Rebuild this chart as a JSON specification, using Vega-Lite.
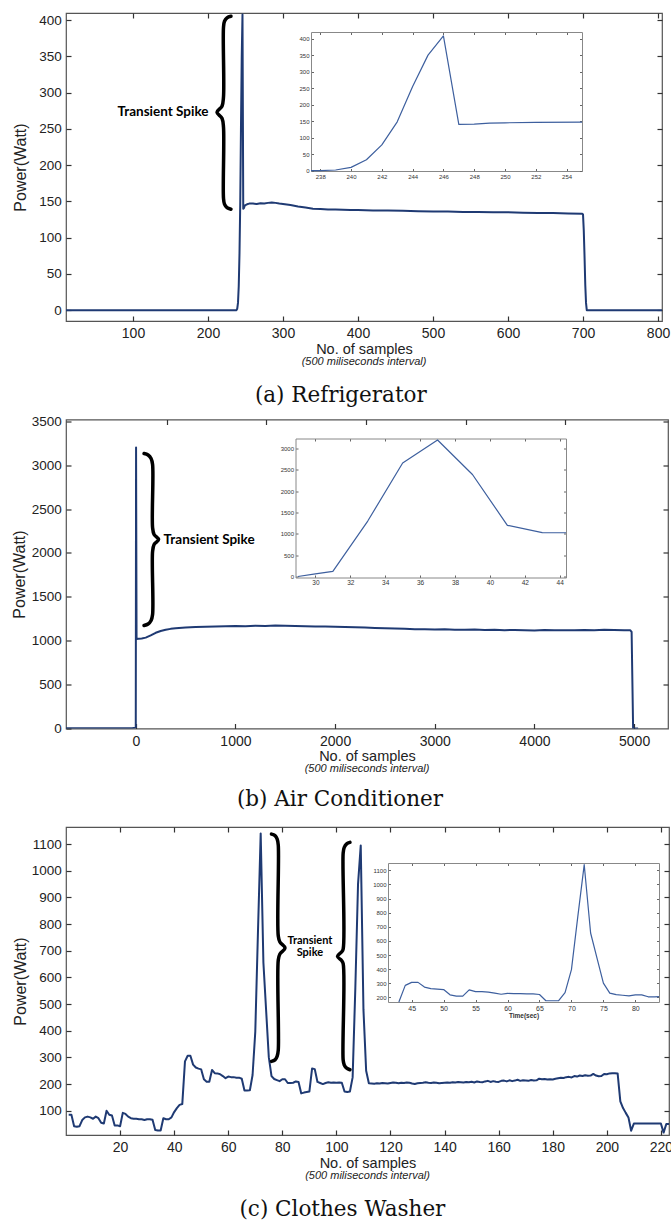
{
  "$schema": "https://vega.github.io/schema/vega-lite/v6.json",
  "padding": {"left": 10, "top": 11, "right": 0, "bottom": 0},
  "background": "white",
  "config": {
    "view": {"stroke": "#555", "strokeWidth": 1.2},
    "axis": {"labelFont": "Liberation Sans", "titleFont": "Liberation Sans", "labelColor": "#222", "titleColor": "#222", "tickColor": "#333", "tickWidth": 1.2, "tickOpacity": 1, "ticks": true, "domain": false, "grid": false, "titleFontWeight": "normal", "labelFontWeight": "normal", "labelOverlap": false, "minExtent": 0, "format": "d"}
  },
  "datasets": {
    "fridge": [
      {"x":1,"y":0},{"x":100,"y":0},{"x":200,"y":0},{"x":237,"y":0},{"x":238,"y":0},{"x":239,"y":2},{"x":240,"y":10},{"x":241,"y":33},{"x":242,"y":78},{"x":243,"y":148},{"x":244,"y":255},{"x":245,"y":350},{"x":246,"y":408},{"x":247,"y":140},{"x":248,"y":141},{"x":249,"y":144},{"x":250,"y":145},{"x":252,"y":146},{"x":255,"y":147},{"x":260,"y":147},{"x":265,"y":146.5},{"x":270,"y":147.5},{"x":275,"y":147},{"x":280,"y":148},{"x":285,"y":148.5},{"x":290,"y":148},{"x":295,"y":147},{"x":300,"y":146.5},{"x":310,"y":145},{"x":320,"y":143},{"x":330,"y":141.5},{"x":340,"y":140},{"x":350,"y":139.5},{"x":360,"y":139},{"x":370,"y":139},{"x":380,"y":138.5},{"x":390,"y":138},{"x":400,"y":138},{"x":420,"y":137.5},{"x":440,"y":137.5},{"x":460,"y":137},{"x":480,"y":136.5},{"x":500,"y":136},{"x":520,"y":136},{"x":540,"y":135.5},{"x":560,"y":135.5},{"x":580,"y":135},{"x":600,"y":135},{"x":620,"y":134.5},{"x":640,"y":134},{"x":660,"y":134},{"x":680,"y":133.5},{"x":699,"y":133},{"x":700,"y":132},{"x":701,"y":110},{"x":702,"y":75},{"x":703,"y":35},{"x":704,"y":10},{"x":705,"y":0},{"x":806,"y":0}
    ],
    "braceA": [
      {"o":1,"x":230.67,"y":405.5},{"o":2,"x":225.33,"y":403.4},{"o":3,"x":222.0,"y":398.6},{"o":4,"x":220.67,"y":390.3},{"o":5,"x":220.67,"y":293.8},{"o":6,"x":218.67,"y":281.4},{"o":7,"x":212.0,"y":273.1},{"o":8,"x":218.67,"y":264.8},{"o":9,"x":220.67,"y":252.4},{"o":10,"x":220.67,"y":154.5},{"o":11,"x":222.0,"y":146.2},{"o":12,"x":225.33,"y":141.4},{"o":13,"x":230.67,"y":139.3}
    ],
    "labelA": [{"x":140,"y":273,"label":"Transient Spike"}],
    "ac": [
      {"x":-700,"y":3},{"x":-500,"y":3},{"x":-300,"y":3},{"x":-100,"y":4},{"x":-30,"y":6},{"x":-5,"y":10},{"x":0,"y":15},{"x":3,"y":3200},{"x":8,"y":1020},{"x":30,"y":1022},{"x":60,"y":1025},{"x":100,"y":1035},{"x":150,"y":1060},{"x":200,"y":1090},{"x":250,"y":1110},{"x":300,"y":1125},{"x":350,"y":1135},{"x":400,"y":1142},{"x":500,"y":1150},{"x":600,"y":1155},{"x":700,"y":1158},{"x":800,"y":1162},{"x":900,"y":1165},{"x":1000,"y":1168},{"x":1100,"y":1166},{"x":1200,"y":1170},{"x":1300,"y":1168},{"x":1400,"y":1172},{"x":1500,"y":1170},{"x":1600,"y":1168},{"x":1700,"y":1165},{"x":1800,"y":1163},{"x":1900,"y":1162},{"x":2000,"y":1158},{"x":2100,"y":1155},{"x":2200,"y":1152},{"x":2300,"y":1150},{"x":2400,"y":1145},{"x":2500,"y":1142},{"x":2600,"y":1140},{"x":2700,"y":1135},{"x":2800,"y":1132},{"x":2900,"y":1130},{"x":3000,"y":1128},{"x":3100,"y":1130},{"x":3200,"y":1126},{"x":3300,"y":1125},{"x":3400,"y":1127},{"x":3500,"y":1122},{"x":3600,"y":1125},{"x":3700,"y":1120},{"x":3800,"y":1123},{"x":3900,"y":1118},{"x":4000,"y":1115},{"x":4100,"y":1122},{"x":4200,"y":1120},{"x":4300,"y":1118},{"x":4400,"y":1120},{"x":4500,"y":1122},{"x":4600,"y":1120},{"x":4700,"y":1125},{"x":4800,"y":1122},{"x":4900,"y":1120},{"x":4960,"y":1120},{"x":4975,"y":1100},{"x":4990,"y":0},{"x":5040,"y":0}
    ],
    "acInset": [
      {"x":29,"y":0},{"x":30,"y":60},{"x":31,"y":120},{"x":33,"y":1300},{"x":35,"y":2660},{"x":37,"y":3200},{"x":39,"y":2390},{"x":41,"y":1200},{"x":43,"y":1030},{"x":45,"y":1025}
    ],
    "braceB": [
      {"o":1,"x":83.3,"y":3132},{"o":2,"x":123.5,"y":3115},{"o":3,"x":153.6,"y":3075},{"o":4,"x":168.7,"y":3007},{"o":5,"x":168.7,"y":2289},{"o":6,"x":183.7,"y":2210},{"o":7,"x":228.9,"y":2153},{"o":8,"x":183.7,"y":2096},{"o":9,"x":168.7,"y":2016},{"o":10,"x":168.7,"y":1298},{"o":11,"x":153.6,"y":1230},{"o":12,"x":123.5,"y":1190},{"o":13,"x":83.3,"y":1173}
    ],
    "labelB": [{"x":736,"y":2153,"label":"Transient Spike"}],
    "washer": [
      {"x":1,"y":85},{"x":2,"y":85},{"x":3,"y":42},{"x":4,"y":40},{"x":5,"y":42},{"x":6,"y":65},{"x":7,"y":75},{"x":8,"y":78},{"x":9,"y":75},{"x":10,"y":70},{"x":11,"y":78},{"x":12,"y":72},{"x":13,"y":55},{"x":14,"y":52},{"x":15,"y":100},{"x":16,"y":85},{"x":17,"y":82},{"x":18,"y":45},{"x":19,"y":45},{"x":20,"y":42},{"x":21,"y":92},{"x":22,"y":88},{"x":23,"y":78},{"x":24,"y":72},{"x":25,"y":70},{"x":26,"y":70},{"x":27,"y":68},{"x":28,"y":68},{"x":29,"y":65},{"x":30,"y":68},{"x":31,"y":68},{"x":32,"y":66},{"x":33,"y":28},{"x":34,"y":26},{"x":35,"y":26},{"x":36,"y":72},{"x":37,"y":68},{"x":38,"y":68},{"x":39,"y":75},{"x":40,"y":95},{"x":41,"y":110},{"x":42,"y":122},{"x":43,"y":125},{"x":44,"y":285},{"x":45,"y":306},{"x":46,"y":306},{"x":47,"y":273},{"x":48,"y":262},{"x":49,"y":258},{"x":50,"y":255},{"x":51,"y":218},{"x":52,"y":209},{"x":53,"y":209},{"x":54,"y":253},{"x":55,"y":241},{"x":56,"y":240},{"x":57,"y":237},{"x":58,"y":230},{"x":59,"y":222},{"x":60,"y":228},{"x":61,"y":226},{"x":62,"y":226},{"x":63,"y":224},{"x":64,"y":224},{"x":65,"y":220},{"x":66,"y":176},{"x":67,"y":176},{"x":68,"y":177},{"x":69,"y":234},{"x":70,"y":396},{"x":71,"y":774},{"x":72,"y":1140},{"x":73,"y":656},{"x":74,"y":478},{"x":75,"y":301},{"x":76,"y":230},{"x":77,"y":219},{"x":78,"y":215},{"x":79,"y":211},{"x":80,"y":218},{"x":81,"y":218},{"x":82,"y":204},{"x":83,"y":204},{"x":84,"y":205},{"x":85,"y":210},{"x":86,"y":208},{"x":87,"y":165},{"x":88,"y":168},{"x":89,"y":170},{"x":90,"y":172},{"x":91,"y":258},{"x":92,"y":256},{"x":93,"y":208},{"x":94,"y":204},{"x":95,"y":200},{"x":96,"y":204},{"x":97,"y":207},{"x":98,"y":205},{"x":99,"y":206},{"x":100,"y":205},{"x":101,"y":206},{"x":102,"y":205},{"x":103,"y":172},{"x":104,"y":170},{"x":105,"y":172},{"x":106,"y":225},{"x":107,"y":560},{"x":108,"y":950},{"x":109,"y":1095},{"x":110,"y":480},{"x":111,"y":250},{"x":112,"y":203},{"x":113,"y":202},{"x":114,"y":201},{"x":115,"y":203},{"x":116,"y":202},{"x":117,"y":204},{"x":118,"y":203},{"x":119,"y":202},{"x":120,"y":204},{"x":121,"y":206},{"x":122,"y":205},{"x":123,"y":203},{"x":124,"y":205},{"x":125,"y":204},{"x":126,"y":206},{"x":127,"y":205},{"x":128,"y":202},{"x":129,"y":200},{"x":130,"y":203},{"x":131,"y":204},{"x":132,"y":205},{"x":133,"y":207},{"x":134,"y":205},{"x":135,"y":204},{"x":136,"y":206},{"x":137,"y":205},{"x":138,"y":203},{"x":139,"y":204},{"x":140,"y":205},{"x":141,"y":206},{"x":142,"y":205},{"x":143,"y":207},{"x":144,"y":206},{"x":145,"y":208},{"x":146,"y":207},{"x":147,"y":206},{"x":148,"y":208},{"x":149,"y":207},{"x":150,"y":209},{"x":151,"y":206},{"x":152,"y":210},{"x":153,"y":208},{"x":154,"y":207},{"x":155,"y":210},{"x":156,"y":212},{"x":157,"y":208},{"x":158,"y":211},{"x":159,"y":209},{"x":160,"y":208},{"x":161,"y":212},{"x":162,"y":213},{"x":163,"y":210},{"x":164,"y":214},{"x":165,"y":211},{"x":166,"y":213},{"x":167,"y":216},{"x":168,"y":212},{"x":169,"y":214},{"x":170,"y":213},{"x":171,"y":212},{"x":172,"y":215},{"x":173,"y":213},{"x":174,"y":214},{"x":175,"y":220},{"x":176,"y":218},{"x":177,"y":219},{"x":178,"y":217},{"x":179,"y":218},{"x":180,"y":217},{"x":181,"y":220},{"x":182,"y":222},{"x":183,"y":224},{"x":184,"y":223},{"x":185,"y":226},{"x":186,"y":227},{"x":187,"y":225},{"x":188,"y":230},{"x":189,"y":228},{"x":190,"y":232},{"x":191,"y":230},{"x":192,"y":233},{"x":193,"y":231},{"x":194,"y":232},{"x":195,"y":238},{"x":196,"y":232},{"x":197,"y":229},{"x":198,"y":230},{"x":199,"y":238},{"x":200,"y":237},{"x":201,"y":240},{"x":202,"y":241},{"x":203,"y":241},{"x":204,"y":240},{"x":205,"y":135},{"x":206,"y":110},{"x":207,"y":92},{"x":208,"y":75},{"x":209,"y":25},{"x":210,"y":52},{"x":211,"y":52},{"x":212,"y":52},{"x":213,"y":52},{"x":214,"y":52},{"x":215,"y":52},{"x":216,"y":52},{"x":217,"y":52},{"x":218,"y":52},{"x":219,"y":52},{"x":220,"y":52},{"x":221,"y":18},{"x":222,"y":50},{"x":223,"y":50}
    ],
    "braceC": [
      {"g":"a","o":1,"x":76.0,"y":1137.5},{"g":"a","o":2,"x":77.3,"y":1131.9},{"g":"a","o":3,"x":78.1,"y":1118.8},{"g":"a","o":4,"x":78.5,"y":1096.3},{"g":"a","o":5,"x":78.5,"y":755.1},{"g":"a","o":6,"x":79.1,"y":732.6},{"g":"a","o":7,"x":81.0,"y":710.1},{"g":"a","o":8,"x":79.1,"y":687.6},{"g":"a","o":9,"x":78.5,"y":665.1},{"g":"a","o":10,"x":78.5,"y":327.6},{"g":"a","o":11,"x":78.1,"y":305.1},{"g":"a","o":12,"x":77.3,"y":290.9},{"g":"a","o":13,"x":76.0,"y":285.2},
      {"g":"b","o":1,"x":105.0,"y":1106.4},{"g":"b","o":2,"x":103.8,"y":1100.8},{"g":"b","o":3,"x":102.9,"y":1087.6},{"g":"b","o":4,"x":102.5,"y":1066.3},{"g":"b","o":5,"x":102.5,"y":706.3},{"g":"b","o":6,"x":101.9,"y":695.0},{"g":"b","o":7,"x":100.4,"y":678.9},{"g":"b","o":8,"x":101.9,"y":663.2},{"g":"b","o":9,"x":102.5,"y":651.9},{"g":"b","o":10,"x":102.5,"y":290.1},{"g":"b","o":11,"x":102.9,"y":271.4},{"g":"b","o":12,"x":103.8,"y":259.4},{"g":"b","o":13,"x":105.0,"y":253.7}
    ],
    "labelC": [{"x":90.2,"y":736,"label":"Transient"},{"x":90.2,"y":691,"label":"Spike"}]
  },
  "concat": [
    {
      "concat": [
        {
          "width": 596, "height": 308,
          "title": {"text": "(500 miliseconds interval)", "orient": "bottom", "anchor": "middle", "frame": "group", "font": "Liberation Sans", "fontSize": 11, "fontStyle": "italic", "fontWeight": "normal", "color": "#222", "offset": 0},
          "resolve": {"scale": {"x": "independent", "y": "independent"}, "axis": {"x": "independent", "y": "independent"}},
          "layer": [
            {
              "layer": [
                {"data": {"name": "fridge"}, "mark": {"type": "line", "color": "#1f3a73", "strokeWidth": 2, "strokeJoin": "round", "clip": true},
                 "encoding": {
                   "x": {"field": "x", "type": "quantitative", "scale": {"domain": [10.7, 805.3], "nice": false, "zero": false}, "axis": {"orient": "bottom", "offset": -5, "values": [100,200,300,400,500,600,700,800], "ticks": true, "tickSize": 5, "labelPadding": 5.7, "labelFontSize": 14, "labelOverlap": false, "title": "No. of samples", "titleFontSize": 14.5, "titlePadding": 1.5}},
                   "y": {"field": "y", "type": "quantitative", "scale": {"domain": [-15, 410], "nice": false, "zero": false}, "axis": {"orient": "left", "offset": -5, "values": [0,100,200,300,400], "ticks": true, "tickSize": 5, "labelPadding": 4.7, "labelFontSize": 13.5, "labelOverlap": false, "title": "Power(Watt)", "titleFontSize": 16, "titlePadding": 4, "minExtent": 39}}
                 }},
                {"data": {"name": "braceA"}, "mark": {"type": "line", "color": "black", "strokeWidth": 3.5, "interpolate": "catmull-rom", "strokeCap": "round", "strokeJoin": "round"},
                 "encoding": {"x": {"field": "x", "type": "quantitative"}, "y": {"field": "y", "type": "quantitative"}, "order": {"field": "o"}}},
                {"data": {"name": "labelA"}, "mark": {"type": "text", "font": "Lato", "fontWeight": "bold", "fontSize": 13.5, "align": "center", "baseline": "middle", "color": "black"},
                 "encoding": {"x": {"field": "x", "type": "quantitative"}, "y": {"field": "y", "type": "quantitative"}, "text": {"field": "label"}}}
              ]
            },
            {"data": {"name": "fridge"}, "mark": {"type": "line", "opacity": 0, "clip": true},
             "encoding": {
               "x": {"field": "x", "type": "quantitative", "scale": {"domain": [10.7, 805.3], "nice": false, "zero": false}, "axis": null},
               "y": {"field": "y", "type": "quantitative", "scale": {"domain": [-15, 410], "nice": false, "zero": false}, "axis": {"orient": "left", "offset": -5, "values": [50,150,250,350], "ticks": true, "tickSize": 5, "labelPadding": 4.7, "labelFontSize": 13.5, "labelOverlap": false, "title": null}}
             }},
            {"data": {"name": "fridge"}, "mark": {"type": "line", "opacity": 0, "clip": true},
             "encoding": {
               "x": {"field": "x", "type": "quantitative", "scale": {"domain": [10.7, 805.3], "nice": false, "zero": false}, "axis": {"orient": "top", "offset": -5, "values": [100,200,300,400,500,600,700,800], "ticks": true, "tickSize": 5, "labels": false, "title": null}},
               "y": {"field": "y", "type": "quantitative", "scale": {"domain": [-15, 410], "nice": false, "zero": false}, "axis": {"orient": "right", "offset": -5, "values": [0,50,100,150,200,250,300,350,400], "ticks": true, "tickSize": 5, "labels": false, "title": null}}
             }},
            {"data": {"name": "fridge"}, "transform": [{"filter": "datum.x >= 237 && datum.x <= 256"}], "mark": {"type": "line", "color": "#3d5f9e", "strokeWidth": 1.2, "strokeJoin": "round"},
             "encoding": {
               "x": {"field": "x", "type": "quantitative", "scale": {"domain": [237.4, 255], "range": [245, 516], "nice": false, "zero": false, "clamp": true}, "axis": {"orient": "bottom", "offset": -150, "values": [238,240,242,244,246,248,250,252,254], "ticks": true, "tickSize": -2.5, "tickWidth": 1, "labelFontSize": 6, "labelPadding": 4.8, "labelOverlap": false, "labelColor": "#333", "domain": true, "domainColor": "#888", "tickColor": "#666", "title": null}},
               "y": {"field": "y", "type": "quantitative", "scale": {"domain": [-1, 420], "range": [158, 19], "nice": false, "zero": false, "clamp": true}, "axis": {"orient": "left", "offset": -245, "values": [0,50,100,150,200,250,300,350,400], "ticks": true, "tickSize": -2.5, "tickWidth": 1, "labelFontSize": 6, "labelPadding": 4.5, "labelOverlap": false, "labelColor": "#333", "domain": true, "domainColor": "#888", "tickColor": "#666", "title": null}}
             }},
            {"data": {"name": "fridge"}, "transform": [{"filter": "datum.x >= 237 && datum.x <= 256"}], "mark": {"type": "line", "opacity": 0},
             "encoding": {
               "x": {"field": "x", "type": "quantitative", "scale": {"domain": [237.4, 255], "range": [245, 516], "nice": false, "zero": false, "clamp": true}, "axis": {"orient": "top", "offset": -19, "values": [238,240,242,244,246,248,250,252,254], "ticks": true, "tickSize": -2.5, "tickWidth": 1, "labels": false, "domain": true, "domainColor": "#888", "tickColor": "#666", "title": null}},
               "y": {"field": "y", "type": "quantitative", "scale": {"domain": [-1, 420], "range": [158, 19], "nice": false, "zero": false, "clamp": true}, "axis": {"orient": "right", "offset": -80, "values": [0,50,100,150,200,250,300,350,400], "ticks": true, "tickSize": -2.5, "tickWidth": 1, "labels": false, "domain": true, "domainColor": "#888", "tickColor": "#666", "title": null}}
             }}
          ]
        }
      ],
      "columns": 1,
      "title": {"text": "(a) Refrigerator", "orient": "bottom", "anchor": "middle", "frame": "bounds", "font": "DejaVu Serif", "fontSize": 21.5, "fontWeight": "normal", "color": "#111", "offset": 18}
    },
    {
      "concat": [
        {
          "width": 602, "height": 309,
          "title": {"text": "(500 miliseconds interval)", "orient": "bottom", "anchor": "middle", "frame": "group", "font": "Liberation Sans", "fontSize": 11, "fontStyle": "italic", "fontWeight": "normal", "color": "#222", "offset": 0},
          "resolve": {"scale": {"x": "independent", "y": "independent"}, "axis": {"x": "independent", "y": "independent"}},
          "layer": [
            {
              "layer": [
                {"data": {"name": "ac"}, "mark": {"type": "line", "color": "#1f3a73", "strokeWidth": 2, "strokeJoin": "round", "clip": true},
                 "encoding": {
                   "x": {"field": "x", "type": "quantitative", "scale": {"domain": [-700, 5340], "nice": false, "zero": false}, "axis": {"orient": "bottom", "offset": -5, "values": [0,1000,2000,3000,4000,5000], "ticks": true, "tickSize": 5, "labelPadding": 5.7, "labelFontSize": 14, "labelOverlap": false, "title": "No. of samples", "titleFontSize": 14.5, "titlePadding": 1.5}},
                   "y": {"field": "y", "type": "quantitative", "scale": {"domain": [0, 3520], "nice": false, "zero": false}, "axis": {"orient": "left", "offset": -5, "values": [0,500,1000,1500,2000,2500,3000,3500], "ticks": true, "tickSize": 5, "labelPadding": 4.7, "labelFontSize": 13.5, "labelOverlap": false, "title": "Power(Watt)", "titleFontSize": 16, "titlePadding": 4}}
                 }},
                {"data": {"name": "braceB"}, "mark": {"type": "line", "color": "black", "strokeWidth": 3.5, "interpolate": "catmull-rom", "strokeCap": "round", "strokeJoin": "round"},
                 "encoding": {"x": {"field": "x", "type": "quantitative"}, "y": {"field": "y", "type": "quantitative"}, "order": {"field": "o"}}},
                {"data": {"name": "labelB"}, "mark": {"type": "text", "font": "Lato", "fontWeight": "bold", "fontSize": 13.5, "align": "center", "baseline": "middle", "color": "black"},
                 "encoding": {"x": {"field": "x", "type": "quantitative"}, "y": {"field": "y", "type": "quantitative"}, "text": {"field": "label"}}}
              ]
            },
            {"data": {"name": "ac"}, "mark": {"type": "line", "opacity": 0, "clip": true},
             "encoding": {
               "x": {"field": "x", "type": "quantitative", "scale": {"domain": [-1010, 5030], "nice": false, "zero": false}, "axis": {"orient": "top", "offset": -5, "values": [0,1000,2000,3000,4000], "ticks": true, "tickSize": 5, "labels": false, "title": null}},
               "y": {"field": "y", "type": "quantitative", "scale": {"domain": [0, 3520], "nice": false, "zero": false}, "axis": {"orient": "right", "offset": -5, "values": [500,1000,1500,2000,2500,3000,3500], "ticks": true, "tickSize": 5, "labels": false, "title": null}}
             }},
            {"data": {"name": "acInset"}, "mark": {"type": "line", "color": "#3d5f9e", "strokeWidth": 1.2, "strokeJoin": "round"},
             "encoding": {
               "x": {"field": "x", "type": "quantitative", "scale": {"domain": [28.86, 44.36], "range": [229.5, 500], "nice": false, "zero": false, "clamp": true}, "axis": {"orient": "bottom", "offset": -151, "values": [30,32,34,36,38,40,42,44], "ticks": true, "tickSize": -2.5, "tickWidth": 1, "labelFontSize": 6.5, "labelPadding": 4.8, "labelOverlap": false, "labelColor": "#333", "domain": true, "domainColor": "#888", "tickColor": "#666", "title": null}},
               "y": {"field": "y", "type": "quantitative", "scale": {"domain": [-23, 3234], "range": [158, 19], "nice": false, "zero": false, "clamp": true}, "axis": {"orient": "left", "offset": -229.5, "values": [0,500,1000,1500,2000,2500,3000], "ticks": true, "tickSize": -2.5, "tickWidth": 1, "labelFontSize": 6, "labelPadding": 4.5, "labelOverlap": false, "labelColor": "#333", "domain": true, "domainColor": "#888", "tickColor": "#666", "title": null}}
             }},
            {"data": {"name": "acInset"}, "mark": {"type": "line", "opacity": 0},
             "encoding": {
               "x": {"field": "x", "type": "quantitative", "scale": {"domain": [28.86, 44.36], "range": [229.5, 500], "nice": false, "zero": false, "clamp": true}, "axis": {"orient": "top", "offset": -19, "values": [30,32,34,36,38,40,42,44], "ticks": true, "tickSize": -2.5, "tickWidth": 1, "labels": false, "domain": true, "domainColor": "#888", "tickColor": "#666", "title": null}},
               "y": {"field": "y", "type": "quantitative", "scale": {"domain": [-23, 3234], "range": [158, 19], "nice": false, "zero": false, "clamp": true}, "axis": {"orient": "right", "offset": -102, "values": [0,500,1000,1500,2000,2500,3000], "ticks": true, "tickSize": -2.5, "tickWidth": 1, "labels": false, "domain": true, "domainColor": "#888", "tickColor": "#666", "title": null}}
             }}
          ]
        }
      ],
      "columns": 1,
      "title": {"text": "(b) Air Conditioner", "orient": "bottom", "anchor": "middle", "frame": "bounds", "font": "DejaVu Serif", "fontSize": 21.5, "fontWeight": "normal", "color": "#111", "offset": 14}
    },
    {
      "concat": [
        {
          "width": 603, "height": 308,
          "title": {"text": "(500 miliseconds interval)", "orient": "bottom", "anchor": "middle", "frame": "group", "font": "Liberation Sans", "fontSize": 11, "fontStyle": "italic", "fontWeight": "normal", "color": "#222", "offset": 0},
          "resolve": {"scale": {"x": "independent", "y": "independent"}, "axis": {"x": "independent", "y": "independent"}},
          "layer": [
            {
              "layer": [
                {"data": {"name": "washer"}, "mark": {"type": "line", "color": "#1f3a73", "strokeWidth": 2, "strokeJoin": "round", "clip": true},
                 "encoding": {
                   "x": {"field": "x", "type": "quantitative", "scale": {"domain": [0, 223], "nice": false, "zero": false}, "axis": {"orient": "bottom", "offset": -5, "values": [20,40,60,80,100,120,140,160,180,200,220], "ticks": true, "tickSize": 5, "labelPadding": 5.7, "labelFontSize": 14, "labelOverlap": false, "title": "No. of samples", "titleFontSize": 14.5, "titlePadding": 1.5}},
                   "y": {"field": "y", "type": "quantitative", "scale": {"domain": [9, 1164], "nice": false, "zero": false}, "axis": {"orient": "left", "offset": -5, "values": [100,300,500,700,900,1100], "ticks": true, "tickSize": 5, "labelPadding": 4.7, "labelFontSize": 13.5, "labelOverlap": false, "title": "Power(Watt)", "titleFontSize": 16, "titlePadding": 4}}
                 }},
                {"data": {"name": "braceC"}, "mark": {"type": "line", "color": "black", "strokeWidth": 3.5, "interpolate": "catmull-rom", "strokeCap": "round", "strokeJoin": "round"},
                 "encoding": {"x": {"field": "x", "type": "quantitative"}, "y": {"field": "y", "type": "quantitative"}, "detail": {"field": "g"}, "order": {"field": "o"}}},
                {"data": {"name": "labelC"}, "mark": {"type": "text", "font": "Lato", "fontWeight": "bold", "fontSize": 11, "align": "center", "baseline": "middle", "color": "black"},
                 "encoding": {"x": {"field": "x", "type": "quantitative"}, "y": {"field": "y", "type": "quantitative"}, "text": {"field": "label"}}}
              ]
            },
            {"data": {"name": "washer"}, "mark": {"type": "line", "opacity": 0, "clip": true},
             "encoding": {
               "x": {"field": "x", "type": "quantitative", "scale": {"domain": [0, 223], "nice": false, "zero": false}, "axis": null},
               "y": {"field": "y", "type": "quantitative", "scale": {"domain": [9, 1164], "nice": false, "zero": false}, "axis": {"orient": "left", "offset": -5, "values": [200,400,600,800,1000], "ticks": true, "tickSize": 5, "labelPadding": 4.7, "labelFontSize": 13.5, "labelOverlap": false, "title": null}}
             }},
            {"data": {"name": "washer"}, "mark": {"type": "line", "opacity": 0, "clip": true},
             "encoding": {
               "x": {"field": "x", "type": "quantitative", "scale": {"domain": [0, 223], "nice": false, "zero": false}, "axis": {"orient": "top", "offset": -5, "values": [20,40,60,80,100,120,140,160,180,200,220], "ticks": true, "tickSize": 5, "labels": false, "title": " ", "titleFontSize": 4, "titlePadding": 4}},
               "y": {"field": "y", "type": "quantitative", "scale": {"domain": [9, 1164], "nice": false, "zero": false}, "axis": {"orient": "right", "offset": -5, "values": [100,200,300,400,500,600,700,800,900,1000,1100], "ticks": true, "tickSize": 5, "labels": false, "title": null}}
             }},
            {"data": {"name": "washer"}, "transform": [{"filter": "datum.x >= 43 && datum.x <= 84"}], "mark": {"type": "line", "color": "#3d5f9e", "strokeWidth": 1.2, "strokeJoin": "round"},
             "encoding": {
               "x": {"field": "x", "type": "quantitative", "scale": {"domain": [41.3, 83.7], "range": [322, 593], "nice": false, "zero": false, "clamp": true}, "axis": {"orient": "bottom", "offset": -133, "values": [45,50,55,60,65,70,75,80], "ticks": true, "tickSize": -2.5, "tickWidth": 1, "labelFontSize": 7, "labelPadding": 4.8, "labelOverlap": false, "labelColor": "#333", "domain": true, "domainColor": "#888", "tickColor": "#666", "title": "Time(sec)", "titleFontSize": 6.5, "titleFontWeight": "bold", "titlePadding": 1, "titleColor": "#333"}},
               "y": {"field": "y", "type": "quantitative", "scale": {"domain": [167, 1152], "range": [175, 36], "nice": false, "zero": false, "clamp": true}, "axis": {"orient": "left", "offset": -322, "values": [200,300,400,500,600,700,800,900,1000,1100], "ticks": true, "tickSize": -2.5, "tickWidth": 1, "labelFontSize": 6, "labelPadding": 4.5, "labelOverlap": false, "labelColor": "#333", "domain": true, "domainColor": "#888", "tickColor": "#666", "title": null}}
             }},
            {"data": {"name": "washer"}, "transform": [{"filter": "datum.x >= 43 && datum.x <= 84"}], "mark": {"type": "line", "opacity": 0},
             "encoding": {
               "x": {"field": "x", "type": "quantitative", "scale": {"domain": [41.3, 83.7], "range": [322, 593], "nice": false, "zero": false, "clamp": true}, "axis": {"orient": "top", "offset": -36, "values": [45,50,55,60,65,70,75,80], "ticks": true, "tickSize": -2.5, "tickWidth": 1, "labels": false, "domain": true, "domainColor": "#888", "tickColor": "#666", "title": null}},
               "y": {"field": "y", "type": "quantitative", "scale": {"domain": [167, 1152], "range": [175, 36], "nice": false, "zero": false, "clamp": true}, "axis": {"orient": "right", "offset": -10, "values": [200,300,400,500,600,700,800,900,1000,1100], "ticks": true, "tickSize": -2.5, "tickWidth": 1, "labels": false, "domain": true, "domainColor": "#888", "tickColor": "#666", "title": null}}
             }}
          ]
        }
      ],
      "columns": 1,
      "title": {"text": "(c) Clothes Washer", "orient": "bottom", "anchor": "middle", "frame": "bounds", "font": "DejaVu Serif", "fontSize": 21.5, "fontWeight": "normal", "color": "#111", "offset": 18}
    }
  ],
  "columns": 1,
  "spacing": 6.5
}
